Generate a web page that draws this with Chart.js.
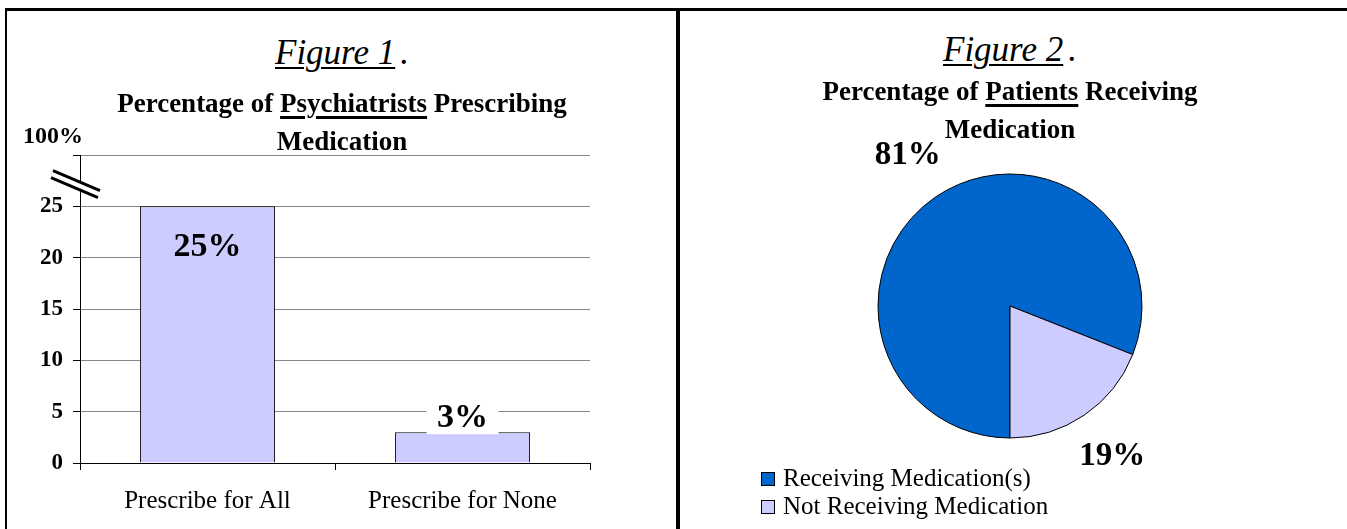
<!DOCTYPE html>
<html>
<head>
<meta charset="utf-8">
<title>Figures 1 and 2</title>
<script src="https://cdn.jsdelivr.net/npm/chart.js@4.4.1/dist/chart.umd.min.js"></script>
<style>
  body { margin: 0; background: #fff; width: 1347px; height: 529px; overflow: hidden; position: relative; font-family: "Liberation Serif", "Times New Roman", serif; }
  #frame { position: absolute; left: 5px; top: 8px; width: 1400px; height: 600px; border-top: 3px solid #000; border-left: 2px solid #000; box-sizing: border-box; }
  #divider { position: absolute; left: 676px; top: 8px; width: 4px; height: 600px; background: #000; }
  .fig { position: absolute; text-align: center; font-style: italic; font-size: 35px; line-height: 40px; }
  .fig u { text-decoration-thickness: 2px; text-underline-offset: 3px; }
  .ttl { position: absolute; text-align: center; font-weight: bold; font-size: 27px; line-height: 38px; }
  .ttl u { text-decoration-thickness: 3px; text-underline-offset: 4px; }
  canvas { position: absolute; }
  #legend { position: absolute; left: 761px; top: 464px; font-size: 25px; }
  .leg-row { height: 28px; line-height: 28px; white-space: nowrap; }
  .leg-box { display: inline-block; width: 12px; height: 12px; border: 1.5px solid #000; margin-right: 8px; vertical-align: 0px; }
</style>
</head>
<body>
<div id="frame"></div>
<div id="divider"></div>

<canvas id="barChart" width="670" height="410" style="left:8px; top:110px; width:670px; height:410px;"></canvas>
<canvas id="pieChart" width="640" height="350" style="left:690px; top:130px; width:640px; height:350px;"></canvas>

<div class="fig" style="left:7px; width:670px; top:33px;"><u>Figure 1</u><span style="margin-left:5px;">.</span></div>
<div class="ttl" style="left:7px; width:670px; top:84px;">Percentage of <u>Psychiatrists</u> Prescribing<br>Medication</div>

<div class="fig" style="left:680px; width:660px; top:30px;"><u>Figure 2</u><span style="margin-left:5px;">.</span></div>
<div class="ttl" style="left:680px; width:660px; top:72px;">Percentage of <u>Patients</u> Receiving<br>Medication</div>

<div id="legend"></div>

<script>
'use strict';

// *********** DATA ***********
let barLabels = ['Prescribe for All', 'Prescribe for None'];
let barValues = [25, 3];
let yTicks = [0, 5, 10, 15, 20, 25];
let yTopLabel = '100%';

let pieLabels = ['Receiving Medication(s)', 'Not Receiving Medication'];
let pieValues = [81, 19];
let pieColors = ['#0066cc', '#ccccff'];

// ******* DOM REFERENCES ******************
let barCtx = document.getElementById('barChart').getContext('2d');
let pieCtx = document.getElementById('pieChart').getContext('2d');
let legendBox = document.getElementById('legend');

Chart.defaults.font.family = '"Liberation Serif", "Times New Roman", serif';
Chart.defaults.color = '#000';

// ********** PLUGINS *************

// value labels on the bars, "3%" sits on a white box above its bar
let barLabelPlugin = {
  id: 'barLabels',
  afterDatasetsDraw(chart) {
    let ctx = chart.ctx;
    let bars = chart.getDatasetMeta(0).data;
    ctx.save();
    ctx.font = 'bold 34px "Liberation Serif"';
    ctx.textAlign = 'center';
    ctx.textBaseline = 'middle';
    for (let i = 0; i < bars.length; i++) {
      let bar = bars[i];
      let text = barValues[i] + '%';
      let tall = bar.base - bar.y > 60;
      let y = tall ? bar.y + 41 : bar.y - 14;
      if (!tall) {
        ctx.fillStyle = '#fff';
        ctx.fillRect(bar.x - 36, y - 16, 72, 32);
      }
      ctx.fillStyle = '#000';
      ctx.fillText(text, bar.x, y);
    }
    ctx.restore();
  }
};

// axis break marks and the "100%" label at the top of the y axis
let axisBreakPlugin = {
  id: 'axisBreak',
  afterDraw(chart) {
    let ctx = chart.ctx;
    let yScale = chart.scales.y;
    let x = chart.chartArea.left;
    let yTop = yScale.getPixelForValue(yScale.max);
    let yMid = (yTop + yScale.getPixelForValue(25)) / 2 + 4;

    ctx.save();
    ctx.fillStyle = '#fff';
    ctx.beginPath();
    ctx.moveTo(x - 27, yMid - 14);
    ctx.lineTo(x + 20, yMid + 6);
    ctx.lineTo(x + 18, yMid + 13);
    ctx.lineTo(x - 29, yMid - 7);
    ctx.closePath();
    ctx.fill();

    ctx.strokeStyle = '#000';
    ctx.lineWidth = 3;
    ctx.beginPath();
    ctx.moveTo(x - 27, yMid - 14);
    ctx.lineTo(x + 20, yMid + 6);
    ctx.moveTo(x - 29, yMid - 7);
    ctx.lineTo(x + 18, yMid + 13);
    ctx.stroke();

    ctx.fillStyle = '#000';
    ctx.font = 'bold 24px "Liberation Serif"';
    ctx.textAlign = 'center';
    ctx.textBaseline = 'middle';
    ctx.fillText(yTopLabel, x - 27, yTop - 18);
    ctx.restore();
  }
};

// percent labels outside the pie at each slice's middle angle
let pieLabelPlugin = {
  id: 'pieLabels',
  afterDatasetsDraw(chart) {
    let ctx = chart.ctx;
    let arcs = chart.getDatasetMeta(0).data;
    ctx.save();
    ctx.font = 'bold 33px "Liberation Serif"';
    ctx.fillStyle = '#000';
    ctx.textAlign = 'center';
    ctx.textBaseline = 'middle';
    for (let i = 0; i < arcs.length; i++) {
      let arc = arcs[i];
      let mid = (arc.startAngle + arc.endAngle) / 2;
      let r = arc.outerRadius + 50;
      ctx.fillText(pieValues[i] + '%', arc.x + Math.cos(mid) * r, arc.y + Math.sin(mid) * r);
    }
    ctx.restore();
  }
};

// ********** CHARTS *************

function renderBarChart() {
  let barChartObj = {
    type: 'bar',
    data: {
      labels: barLabels,
      datasets: [{
        data: barValues,
        backgroundColor: '#ccccff',
        borderColor: '#000',
        borderWidth: 1,
        borderSkipped: 'bottom',
        barPercentage: 0.53,
        categoryPercentage: 1
      }]
    },
    options: {
      responsive: false,
      animation: false,
      events: [],
      layout: { padding: { left: 0, right: 88, top: 45, bottom: 7 } },
      plugins: { legend: { display: false }, tooltip: { enabled: false } },
      scales: {
        x: {
          grid: { display: true, drawOnChartArea: false, tickLength: 7, tickColor: '#000' },
          border: { color: '#000' },
          ticks: { font: { size: 25 }, padding: 16 },
          afterFit: (scale) => { scale.height = 50; }
        },
        y: {
          min: 0,
          max: 30,
          afterBuildTicks: (scale) => {
            scale.ticks = yTicks.concat([30]).map((v) => ({ value: v }));
          },
          ticks: {
            font: { size: 23, weight: 'bold' },
            padding: 10,
            callback: (v) => (yTicks.includes(v) ? v : '')
          },
          grid: { color: '#888', tickLength: 7, tickColor: '#000' },
          border: { color: '#000' },
          afterFit: (scale) => { scale.width = 72; }
        }
      }
    },
    plugins: [barLabelPlugin, axisBreakPlugin]
  };

  const barChart = new Chart(barCtx, barChartObj);
}

function renderPieChart() {
  let pieChartObj = {
    type: 'pie',
    data: {
      labels: pieLabels,
      datasets: [{
        data: pieValues,
        backgroundColor: pieColors,
        borderColor: '#000',
        borderWidth: 1,
        hoverOffset: 0
      }]
    },
    options: {
      responsive: false,
      animation: false,
      events: [],
      rotation: 180,
      radius: 132,
      layout: { padding: { left: 188, right: 188, top: 44, bottom: 42 } },
      plugins: { legend: { display: false }, tooltip: { enabled: false } }
    },
    plugins: [pieLabelPlugin]
  };

  const pieChart = new Chart(pieCtx, pieChartObj);
}

function renderLegend() {
  for (let i = 0; i < pieLabels.length; i++) {
    let row = document.createElement('div');
    row.className = 'leg-row';
    let box = document.createElement('span');
    box.className = 'leg-box';
    box.style.background = pieColors[i];
    row.appendChild(box);
    row.appendChild(document.createTextNode(pieLabels[i]));
    legendBox.appendChild(row);
  }
}

renderBarChart();
renderPieChart();
renderLegend();
</script>
</body>
</html>
